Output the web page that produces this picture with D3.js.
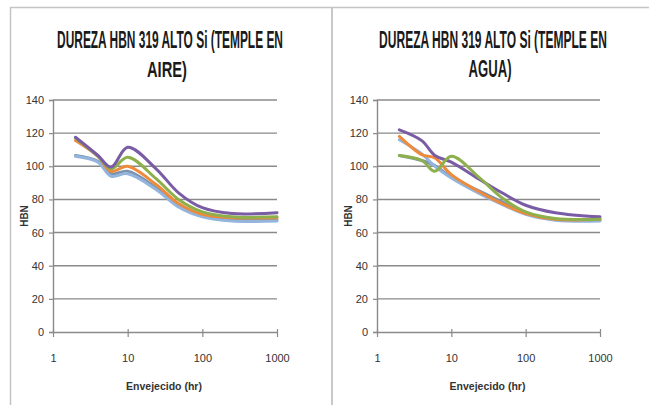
<!DOCTYPE html>
<html><head><meta charset="utf-8">
<script src="https://cdn.jsdelivr.net/npm/d3@7"></script>
<style>html,body{margin:0;padding:0;background:#fff;}svg{display:block;}</style>
</head><body>
<svg id="c" width="649" height="405"></svg>
<script>
// ---- data ----
const hours = [2, 4, 6, 10, 24, 48, 100, 250, 1000];
const xTicks = [1, 10, 100, 1000];
const yTicks = [0, 20, 40, 60, 80, 100, 120, 140];
const titleAire = ["DUREZA HBN 319 ALTO Si (TEMPLE EN", "AIRE)"];
const titleAgua = ["DUREZA HBN 319 ALTO Si (TEMPLE EN", "AGUA)"];
const xTitle = "Envejecido (hr)";
const yTitle = "HBN";
const colorGris = "#7C93AE", colorCeleste = "#93B4DC", colorNaranja = "#EE8A3C",
      colorVerde = "#8DB04C", colorMorado = "#7A5CA5";
const aireGris    = [106.5, 103, 95.5, 97, 87, 76, 70, 67.5, 67.5];
const aireCeleste = [106, 102.5, 94, 95.5, 86, 75.5, 69.5, 67, 67];
const aireNaranja = [115.5, 106, 97, 100, 89, 77.5, 71, 69, 69];
const aireVerde   = [117, 106, 98.5, 105.5, 92.5, 80, 72.5, 69.5, 69.5];
const aireMorado  = [117.5, 106.5, 99.5, 111.5, 98.5, 84, 75, 71.5, 72];
const aguaGris    = [106.5, 103.5, 100.5, 93.5, 85, 78.5, 71.5, 68, 67.5];
const aguaCeleste = [116, 107.5, 100, 93, 83.5, 77, 71, 67.5, 67];
const aguaNaranja = [118, 107, 105, 95, 84.5, 77.5, 71.5, 68, 68];
const aguaVerde   = [106.5, 103.5, 97, 106, 93, 81, 72.5, 68.5, 68];
const aguaMorado  = [122, 115.5, 106.5, 102.5, 92, 84, 76.5, 72, 69.5];

const svg = d3.select("#c");
const fontNarrow = "'Liberation Sans Narrow','Liberation Sans',Arial,sans-serif";

// frame lines
svg.append("line").attr("x1", 10).attr("x2", 649).attr("y1", 7.5).attr("y2", 7.5).attr("stroke", "#c4c4c4").attr("stroke-width", 1.5);
svg.append("line").attr("x1", 10.5).attr("x2", 10.5).attr("y1", 7).attr("y2", 405).attr("stroke", "#c4c4c4").attr("stroke-width", 1.5);
svg.append("line").attr("x1", 332).attr("x2", 332).attr("y1", 7).attr("y2", 405).attr("stroke", "#c8c8c8").attr("stroke-width", 2);

function drawChart(cfg) {
  const g = svg.append("g");
  const x = d3.scaleLog().domain([1, 1000]).range([cfg.x0, cfg.x1]);
  const y = d3.scaleLinear().domain([0, 140]).range([332, 100]);

  cfg.title.forEach((t, i) => {
    const tEl = g.append("text").attr("x", 0).attr("y", 0)
      .attr("text-anchor", "middle").attr("font-family", fontNarrow)
      .attr("font-weight", "bold").attr("font-size", 23).attr("fill", "#1a1a1a")
      .text(t);
    const natural = tEl.node().getComputedTextLength() || cfg.tw[i];
    const sx = Math.min(1, cfg.tw[i] / natural);
    tEl.attr("transform", `translate(${cfg.tx[i]},${48 + i * 29}) scale(${sx},1)`);
  });

  g.append("g").selectAll("line").data(yTicks.filter(d => d > 0)).join("line")
    .attr("x1", cfg.x0).attr("x2", cfg.x1)
    .attr("y1", d => y(d)).attr("y2", d => y(d))
    .attr("stroke", "#8a8a8a").attr("stroke-width", 1.4);

  const ya = g.append("g").attr("transform", `translate(${cfg.x0},0)`)
    .call(d3.axisLeft(y).tickValues(yTicks).tickSize(4).tickPadding(5).tickFormat(d3.format("d")));
  ya.select(".domain").attr("stroke", "#8a8a8a").attr("stroke-width", 1.4);
  ya.selectAll(".tick line").attr("stroke", "#8a8a8a").attr("stroke-width", 1.2);
  ya.selectAll("text").attr("font-family", fontNarrow).attr("font-size", 11).attr("fill", "#333");

  const xa = g.append("g").attr("transform", "translate(0,332)")
    .call(d3.axisBottom(x).tickValues(xTicks).tickSize(5).tickSizeOuter(0).tickPadding(17).tickFormat(d3.format("d")));
  xa.select(".domain").attr("stroke", "#8a8a8a").attr("stroke-width", 1.4);
  xa.selectAll(".tick line").attr("stroke", "#8a8a8a").attr("stroke-width", 1.2).attr("y1", -3);
  xa.selectAll("text").attr("font-family", fontNarrow).attr("font-size", 11).attr("fill", "#333");

  g.append("text").attr("x", (cfg.x0 + cfg.x1) / 2 - 1).attr("y", 390)
    .attr("text-anchor", "middle").attr("font-family", fontNarrow).attr("font-weight", "bold")
    .attr("font-size", 10.5).attr("fill", "#333").text(xTitle);
  g.append("text").attr("transform", `translate(${cfg.x0 - 25},216) rotate(-90)`)
    .attr("text-anchor", "middle").attr("font-family", fontNarrow).attr("font-weight", "bold")
    .attr("font-size", 10).attr("fill", "#333").text(yTitle);

  const line = d3.line().x((d, i) => x(hours[i])).y(d => y(d)).curve(d3.curveCatmullRom.alpha(0.5));
  cfg.series.forEach(s => {
    g.append("path").datum(s.values).attr("d", line)
      .attr("fill", "none").attr("stroke", s.color).attr("stroke-width", 3)
      .attr("stroke-linejoin", "round").attr("stroke-linecap", "round");
  });
}

drawChart({ x0: 53, x1: 277, title: titleAire, tx: [170, 167], tw: [226, 40],
  series: [
    { values: aireGris, color: colorGris },
    { values: aireCeleste, color: colorCeleste },
    { values: aireNaranja, color: colorNaranja },
    { values: aireVerde, color: colorVerde },
    { values: aireMorado, color: colorMorado }
  ] });
drawChart({ x0: 377, x1: 600, title: titleAgua, tx: [493, 490], tw: [228, 43],
  series: [
    { values: aguaGris, color: colorGris },
    { values: aguaCeleste, color: colorCeleste },
    { values: aguaNaranja, color: colorNaranja },
    { values: aguaMorado, color: colorMorado },
    { values: aguaVerde, color: colorVerde }
  ] });
</script>
</body></html>
